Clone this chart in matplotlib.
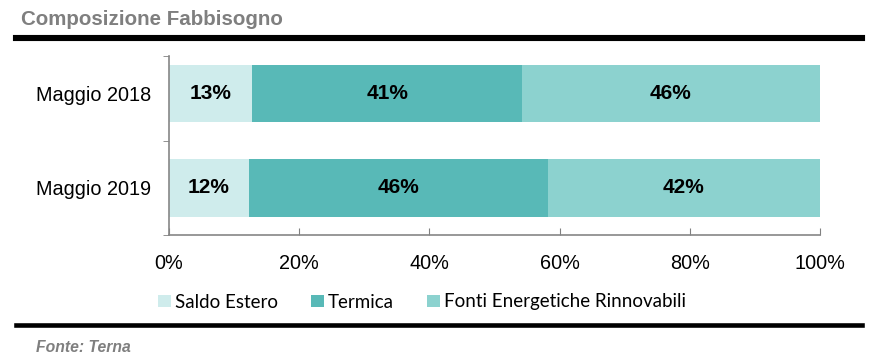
import matplotlib
matplotlib.use("Agg")
import matplotlib.pyplot as plt
from matplotlib.lines import Line2D
from matplotlib.patches import Patch

categories = ["Maggio 2018", "Maggio 2019"]
series_names = ["Saldo Estero", "Termica", "Fonti Energetiche Rinnovabili"]
saldo_estero = [12.8, 12.3]
termica = [41.4, 45.9]
rinnovabili = [45.8, 41.8]
labels_saldo = ["13%", "12%"]
labels_termica = ["41%", "46%"]
labels_rinnovabili = ["46%", "42%"]
xticks = [0, 20, 40, 60, 80, 100]
xtick_labels = ["0%", "20%", "40%", "60%", "80%", "100%"]

colors = ["#CFECEC", "#58B9B7", "#8CD2CF"]

W, H = 874, 357
fig = plt.figure(figsize=(W / 100, H / 100), dpi=100)

def fx(px):
    return px / W

def fy(py):
    return 1 - py / H

ax_left, ax_right, ax_top, ax_bottom = 169, 820, 56, 235
ax = fig.add_axes([fx(ax_left), fy(ax_bottom), fx(ax_right - ax_left), (ax_bottom - ax_top) / H])

ypos = list(range(len(categories)))
series = [saldo_estero, termica, rinnovabili]
labels = [labels_saldo, labels_termica, labels_rinnovabili]
left = [0.0] * len(categories)
for vals, col, labs, name in zip(series, colors, labels, series_names):
    ax.barh(ypos, vals, left=left, height=0.61, color=col, label=name)
    for i, (v, l, lab) in enumerate(zip(vals, left, labs)):
        ax.text(l + v / 2, i, lab, ha="center", va="center", fontsize=15,
                fontweight="bold", family="Liberation Sans", color="black")
    left = [a + b for a, b in zip(left, vals)]

ax.set_xlim(0, 100)
ax.set_ylim(1.5, -0.397)
ax.set_yticks(ypos)
ax.set_yticklabels(categories, family="Liberation Sans", fontsize=14.3)
ax.tick_params(axis="y", length=0, pad=13)
ax.set_yticks([0.5, 1.5, -0.397], minor=True)
ax.tick_params(axis="y", which="minor", length=4, color="#808080", direction="out")
ax.set_xticks(xticks)
ax.set_xticklabels(xtick_labels, family="Liberation Sans", fontsize=14.3)
ax.tick_params(axis="x", direction="in", length=5, color="#808080", pad=14)
for s in ["top", "right"]:
    ax.spines[s].set_visible(False)
for s in ["left", "bottom"]:
    ax.spines[s].set_color("#868686")
    ax.spines[s].set_linewidth(1.2)

# Title and rules
fig.text(fx(21), fy(25), "Composizione Fabbisogno", fontsize=14.8, fontweight="bold",
         color="#7F7F7F", family="Liberation Sans", ha="left", va="baseline")
fig.add_artist(Line2D([fx(16), fx(862)], [fy(38), fy(38)], color="black", linewidth=4.4))
fig.add_artist(Line2D([fx(16), fx(862)], [fy(325), fy(325)], color="black", linewidth=3.3))
fig.text(fx(36), fy(352), "Fonte: Terna", fontsize=11.3, fontweight="bold", style="italic",
         color="#7F7F7F", family="Liberation Sans", ha="left", va="baseline")

handles = [Patch(facecolor=c, edgecolor="none") for c in colors]
leg = fig.legend(handles, series_names, loc="center left", bbox_to_anchor=(fx(158), fy(302)),
                 ncol=3, frameon=False, prop={"family": "Lato", "size": 13.5},
                 handlelength=0.69, handleheight=0.65, handletextpad=0.22, columnspacing=1.75,
                 borderpad=0, borderaxespad=0)

fig.savefig("out.png", dpi=100)
